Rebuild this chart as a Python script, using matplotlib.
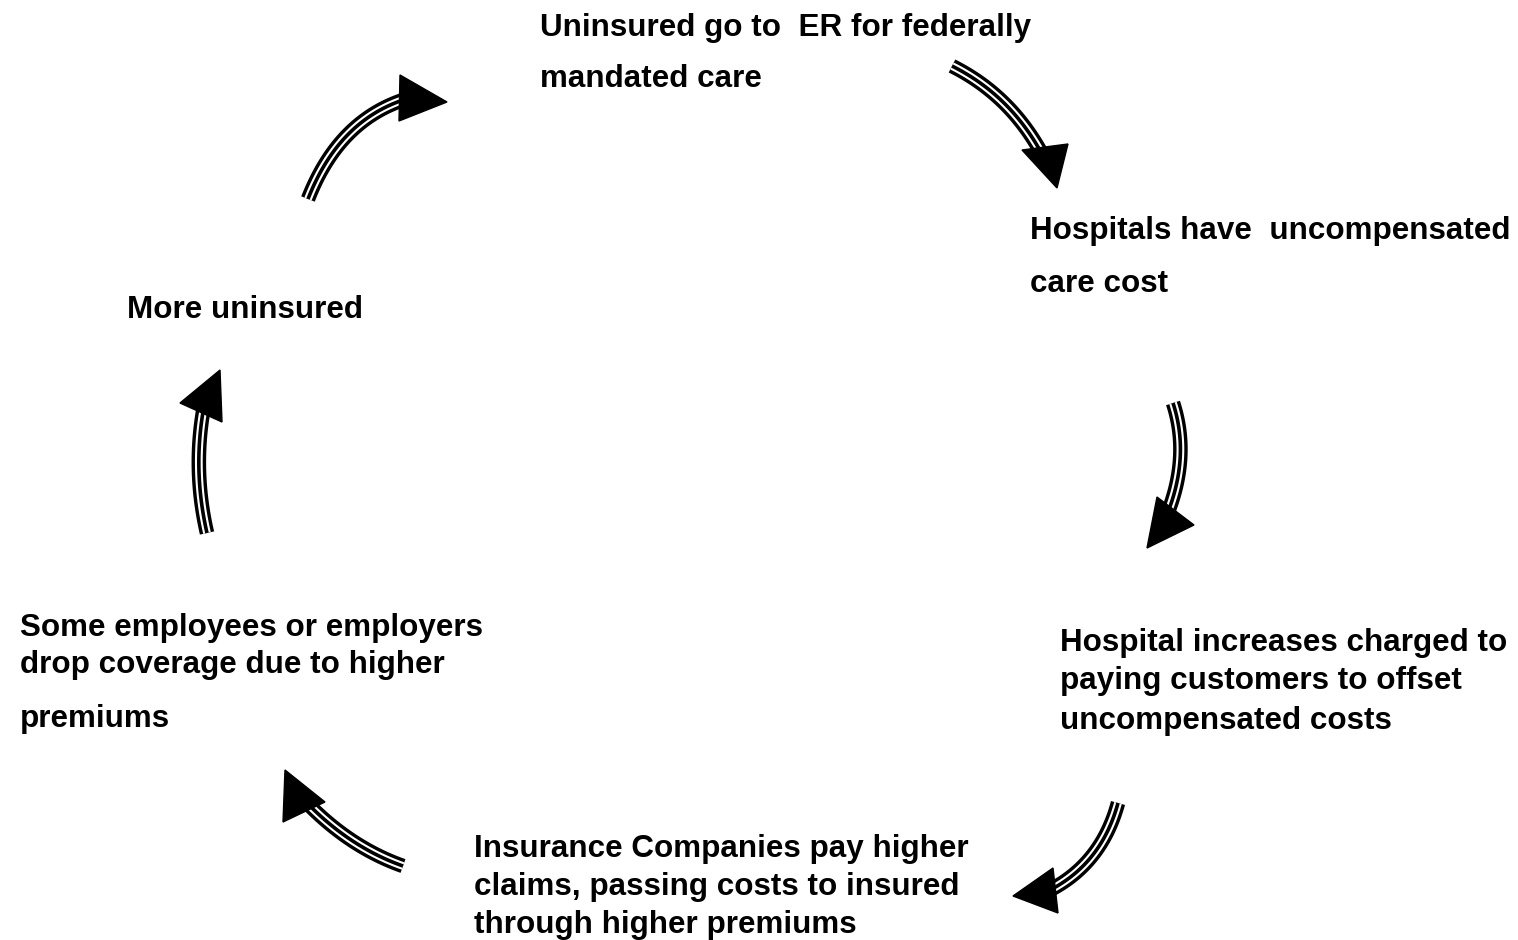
import matplotlib
matplotlib.use("Agg")
import matplotlib.pyplot as plt
import numpy as np
from matplotlib.patches import Polygon

# text blocks: (left x, [(line, center y), ...])
labels = [
    (540, [("Uninsured go to  ER for federally", 28), ("mandated care", 79)]),
    (1030, [("Hospitals have  uncompensated", 231), ("care cost", 284)]),
    (1060, [("Hospital increases charged to", 643),
            ("paying customers to offset", 681),
            ("uncompensated costs", 721)]),
    (474, [("Insurance Companies pay higher", 849),
           ("claims, passing costs to insured", 887),
           ("through higher premiums", 925)]),
    (20, [("Some employees or employers", 628),
          ("drop coverage due to higher", 665),
          ("premiums", 719)]),
    (127, [("More uninsured", 310)]),
]

# arrows: shaft tail, bezier control, shaft end, head triangle
arrow_tail = [(308, 199), (952, 66), (1173, 403), (1118, 803), (403, 866), (207, 533)]
arrow_ctrl = [(338, 122), (1010, 95), (1190, 455), (1102, 862), (352, 848), (193, 472)]
arrow_end = [(403, 100), (1042, 154), (1168, 512), (1052, 889), (310, 806), (203, 412)]
arrow_head = [
    [(400, 75), (447, 102), (399, 121)],
    [(1022, 150), (1068, 144), (1057, 188)],
    [(1157, 497), (1194, 525), (1147, 548)],
    [(1053, 868), (1013, 896), (1058, 913)],
    [(285, 770), (325, 802), (283, 822)],
    [(220, 370), (180, 403), (222, 422)],
]

fig = plt.figure(figsize=(15.18, 9.40), dpi=100)
ax = fig.add_axes([0, 0, 1, 1])
ax.set_xlim(0, 1518)
ax.set_ylim(940, 0)
ax.axis("off")

t = np.linspace(0, 1, 60)
for p0, p1, p2, head in zip(arrow_tail, arrow_ctrl, arrow_end, arrow_head):
    p0, p1, p2 = map(np.array, (p0, p1, p2))
    pts = ((1 - t) ** 2)[:, None] * p0 + (2 * (1 - t) * t)[:, None] * p1 + (t ** 2)[:, None] * p2
    for lw, col in [(10.5, "black"), (5.6, "white"), (2.6, "black")]:
        ax.plot(pts[:, 0], pts[:, 1], color=col, lw=lw, solid_capstyle="butt")
    ax.add_patch(Polygon(head, closed=True, color="black", zorder=3))

for x, lines in labels:
    for txt, y in lines:
        ax.text(x, y, txt, fontsize=22.6, fontweight="bold", family="Liberation Sans",
                ha="left", va="center", color="black")

fig.savefig("out.png", dpi=100)
